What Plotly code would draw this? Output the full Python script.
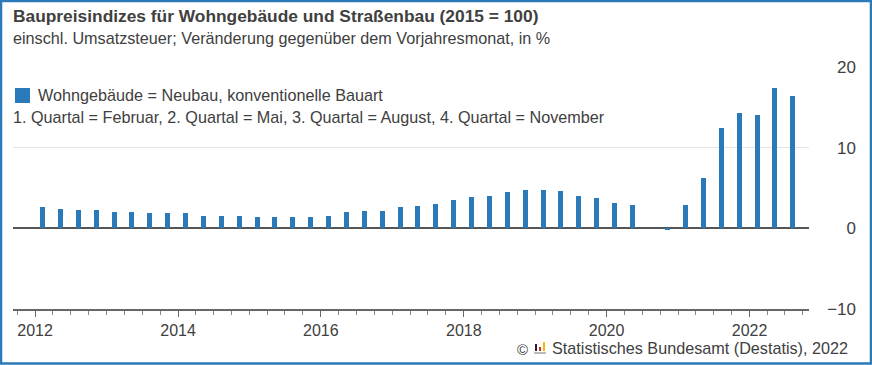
import plotly.graph_objects as go

W, H = 872, 365
BLUE = "#2a7ab9"
TEXT = "#404040"
FONT = "Liberation Sans"

title = "<b>Baupreisindizes für Wohngebäude und Straßenbau (2015 = 100)</b>"
subtitle = "einschl. Umsatzsteuer; Veränderung gegenüber dem Vorjahresmonat, in %"
legend_name = "Wohngebäude = Neubau, konventionelle Bauart"
note = "1. Quartal = Februar, 2. Quartal = Mai, 3. Quartal = August, 4. Quartal = November"
source = "Statistisches Bundesamt (Destatis), 2022"

years = list(range(2012, 2023))
months = ["02", "05", "08", "11"]
dates = [f"{y}-{m}-10" for y in years for m in months][:43]
values = [2.6, 2.45, 2.3, 2.3, 2.0, 2.0, 1.85, 1.85, 1.85, 1.55, 1.55, 1.55,
          1.4, 1.4, 1.4, 1.4, 1.55, 2.0, 2.2, 2.2, 2.6, 2.75, 3.05,
          3.5, 3.85, 4.0, 4.45, 4.75, 4.75, 4.6, 4.0, 3.7, 3.2, 2.95,
          0.0, -0.1, 2.95, 6.25, 12.45, 14.25, 14.1, 17.4, 16.35]
y_ticks = [-10, 0, 10, 20]

fig = go.Figure(go.Bar(x=dates, y=values, width=5 * 86400000 * 365.25 / 71.43,
                       marker=dict(color=BLUE, line=dict(width=0)), name=legend_name,
                       showlegend=False, hoverinfo="x+y"))


def px(x):
    return x / W


def py(y):
    return 1 - y / H


def txt(x, y, s, size, anchor="left"):
    fig.add_annotation(xref="paper", yref="paper", x=px(x), y=py(y), text=s, showarrow=False,
                       xanchor=anchor, yanchor="middle", align=anchor,
                       font=dict(family=FONT, size=size, color=TEXT),
                       borderpad=0, borderwidth=0)


txt(13, 16, title, 17.35)
txt(13, 38, subtitle, 16.2)
txt(38, 95, legend_name, 16.2)
txt(13, 117, note, 16.2)
txt(848, 348, source, 16.2, "right")
txt(517, 349, "©", 15)

shapes = [
    dict(type="rect", xref="paper", yref="paper", x0=px(1), x1=px(W - 1), y0=py(H - 1.5), y1=py(1),
         line=dict(color=BLUE, width=2.5), fillcolor="rgba(0,0,0,0)", layer="above"),
    dict(type="rect", xref="paper", yref="paper", x0=px(15), x1=px(30), y0=py(103), y1=py(88),
         line=dict(width=0), fillcolor=BLUE),
]
# small logo next to the copyright sign
for x0, x1, y0, y1, c in [(534, 546, 352, 354, "#bbbbbb"), (535, 537, 344, 351, "#222222"),
                          (539, 541, 347, 351, "#d8232a"), (543, 545, 342, 351, "#f2b800")]:
    shapes.append(dict(type="rect", xref="paper", yref="paper", x0=px(x0), x1=px(x1), y0=py(y1), y1=py(y0),
                       line=dict(width=0), fillcolor=c))

fig.update_layout(
    width=W, height=H, autosize=False, margin=dict(l=0, r=0, t=0, b=0, autoexpand=False),
    paper_bgcolor="white", plot_bgcolor="white", bargap=0, shapes=shapes,
    font=dict(family=FONT, color=TEXT),
    xaxis=dict(type="date", domain=[px(13), px(809)], range=["2011-09-10", "2022-11-01"],
               anchor="y", tick0="2012-01-01", dtick="M24", tickformat="%Y", ticks="outside",
               ticklen=6, tickcolor="#666666", tickwidth=1, showgrid=False, showline=True,
               linecolor="#666666", linewidth=1.5, zeroline=False,
               tickfont=dict(family=FONT, size=16, color=TEXT),
               minor=dict(dtick="M3", tick0="2012-01-01", ticks="outside", ticklen=4,
                          tickcolor="#888888", tickwidth=1, showgrid=False)),
    yaxis=dict(domain=[py(309), py(67)], range=[-10, 20], tickvals=y_ticks, side="left",
               anchor="free", position=px(856), ticks="", showline=False,
               showgrid=True, gridcolor="#e4e4e4", gridwidth=1,
               zeroline=True, zerolinecolor="#555555", zerolinewidth=1.5,
               tickfont=dict(family=FONT, size=17, color=TEXT)),
)

fig.write_html("out.html", config={"displayModeBar": False},
               post_script="document.body.style.margin='0';document.documentElement.style.overflow='hidden';")
